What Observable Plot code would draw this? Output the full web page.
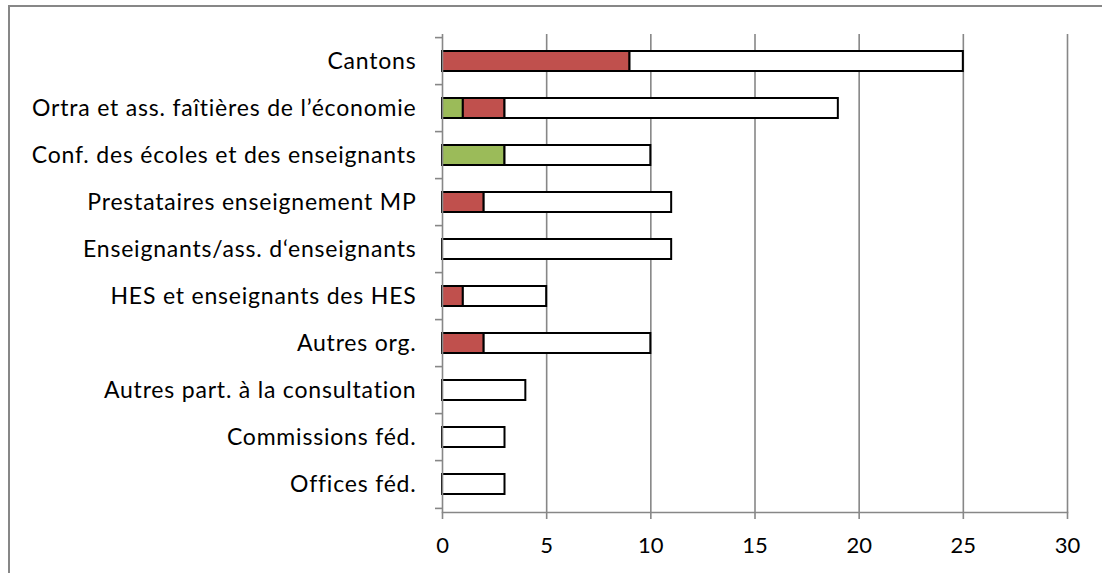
<!DOCTYPE html>
<html>
<head>
<meta charset="utf-8">
<script src="https://cdn.jsdelivr.net/npm/d3@7"></script>
<script src="https://cdn.jsdelivr.net/npm/@observablehq/plot@0.6"></script>
<style>
  html, body { margin: 0; padding: 0; background: #fff; }
  #wrap { position: relative; width: 1102px; height: 573px; overflow: hidden; }
  #border { position: absolute; left: 8px; top: 5px; width: 1200px; height: 700px; border: 2px solid #878787; box-sizing: border-box; pointer-events: none; }
  #chart { position: absolute; left: 0; top: 0; }
  #chart g[aria-label="y-axis tick label"] text { letter-spacing: 0.8px; }
</style>
</head>
<body>
<div id="wrap"><div id="chart"></div><div id="border"></div></div>
<script>
const categories = [
  "Cantons",
  "Ortra et ass. faîtières de l’économie",
  "Conf. des écoles et des enseignants",
  "Prestataires enseignement MP",
  "Enseignants/ass. d‘enseignants",
  "HES et enseignants des HES",
  "Autres org.",
  "Autres part. à la consultation",
  "Commissions féd.",
  "Offices féd."
];
const greenVals = [0, 1, 3, 0, 0, 0, 0, 0, 0, 0];
const redVals   = [9, 2, 0, 2, 0, 1, 2, 0, 0, 0];
const whiteVals = [16, 16, 7, 9, 11, 4, 8, 4, 3, 3];
const seriesNames = ["Série A", "Série B", "Série C"];
const seriesColors = ["#9bbb59", "#c0504d", "#ffffff"];
const xTicks = [0, 5, 10, 15, 20, 25, 30];

const seriesVals = [greenVals, redVals, whiteVals];
const data = [];
categories.forEach((c, i) => {
  seriesNames.forEach((s, k) => {
    const v = seriesVals[k][i];
    if (v > 0) data.push({category: c, series: s, value: v});
  });
});

const W = 1102, H = 573;
const mTop = 34, mBottom = 61, mLeft = 442, mRight = 35;
const step = (H - mTop - mBottom) / categories.length;
const grey = "#878787";
const font = "Lato, 'Liberation Sans', sans-serif";

const chart = Plot.plot({
  width: W,
  height: H,
  marginTop: mTop,
  marginBottom: mBottom,
  marginLeft: mLeft,
  marginRight: mRight,
  style: {fontFamily: font, fontSize: "23px", color: "#000", background: "transparent"},
  x: {domain: [0, 30], ticks: xTicks, label: null},
  y: {domain: categories, paddingInner: 0.57, paddingOuter: 0.285, label: null},
  color: {domain: seriesNames, range: seriesColors},
  marks: [
    Plot.ruleX(xTicks.filter(t => t > 0), {stroke: grey, strokeWidth: 1.6}),
    Plot.barX(data, Plot.stackX({
      x: "value", y: "category", fill: "series",
      order: seriesNames, stroke: "#000", strokeWidth: 2
    })),
    Plot.ruleX([0], {stroke: grey, strokeWidth: 1.6}),
    Plot.axisX({ticks: xTicks, tickSize: 7, tickPadding: 18, stroke: grey, strokeWidth: 1.6, fontSize: 22, fill: "#000", label: null}),
    Plot.axisY({tickSize: 0, tickPadding: 26, fontSize: 23, fill: "#000", label: null}),
    Plot.axisY({tickSize: 7, text: null, dy: -step / 2, stroke: grey, strokeWidth: 1.6, label: null}),
    Plot.axisY([categories[categories.length - 1]], {tickSize: 7, text: null, dy: step / 2, stroke: grey, strokeWidth: 1.6, label: null}),
    Plot.frame({anchor: "bottom", stroke: grey, strokeWidth: 1.6})
  ]
});
document.getElementById("chart").appendChild(chart);
</script>
</body>
</html>
